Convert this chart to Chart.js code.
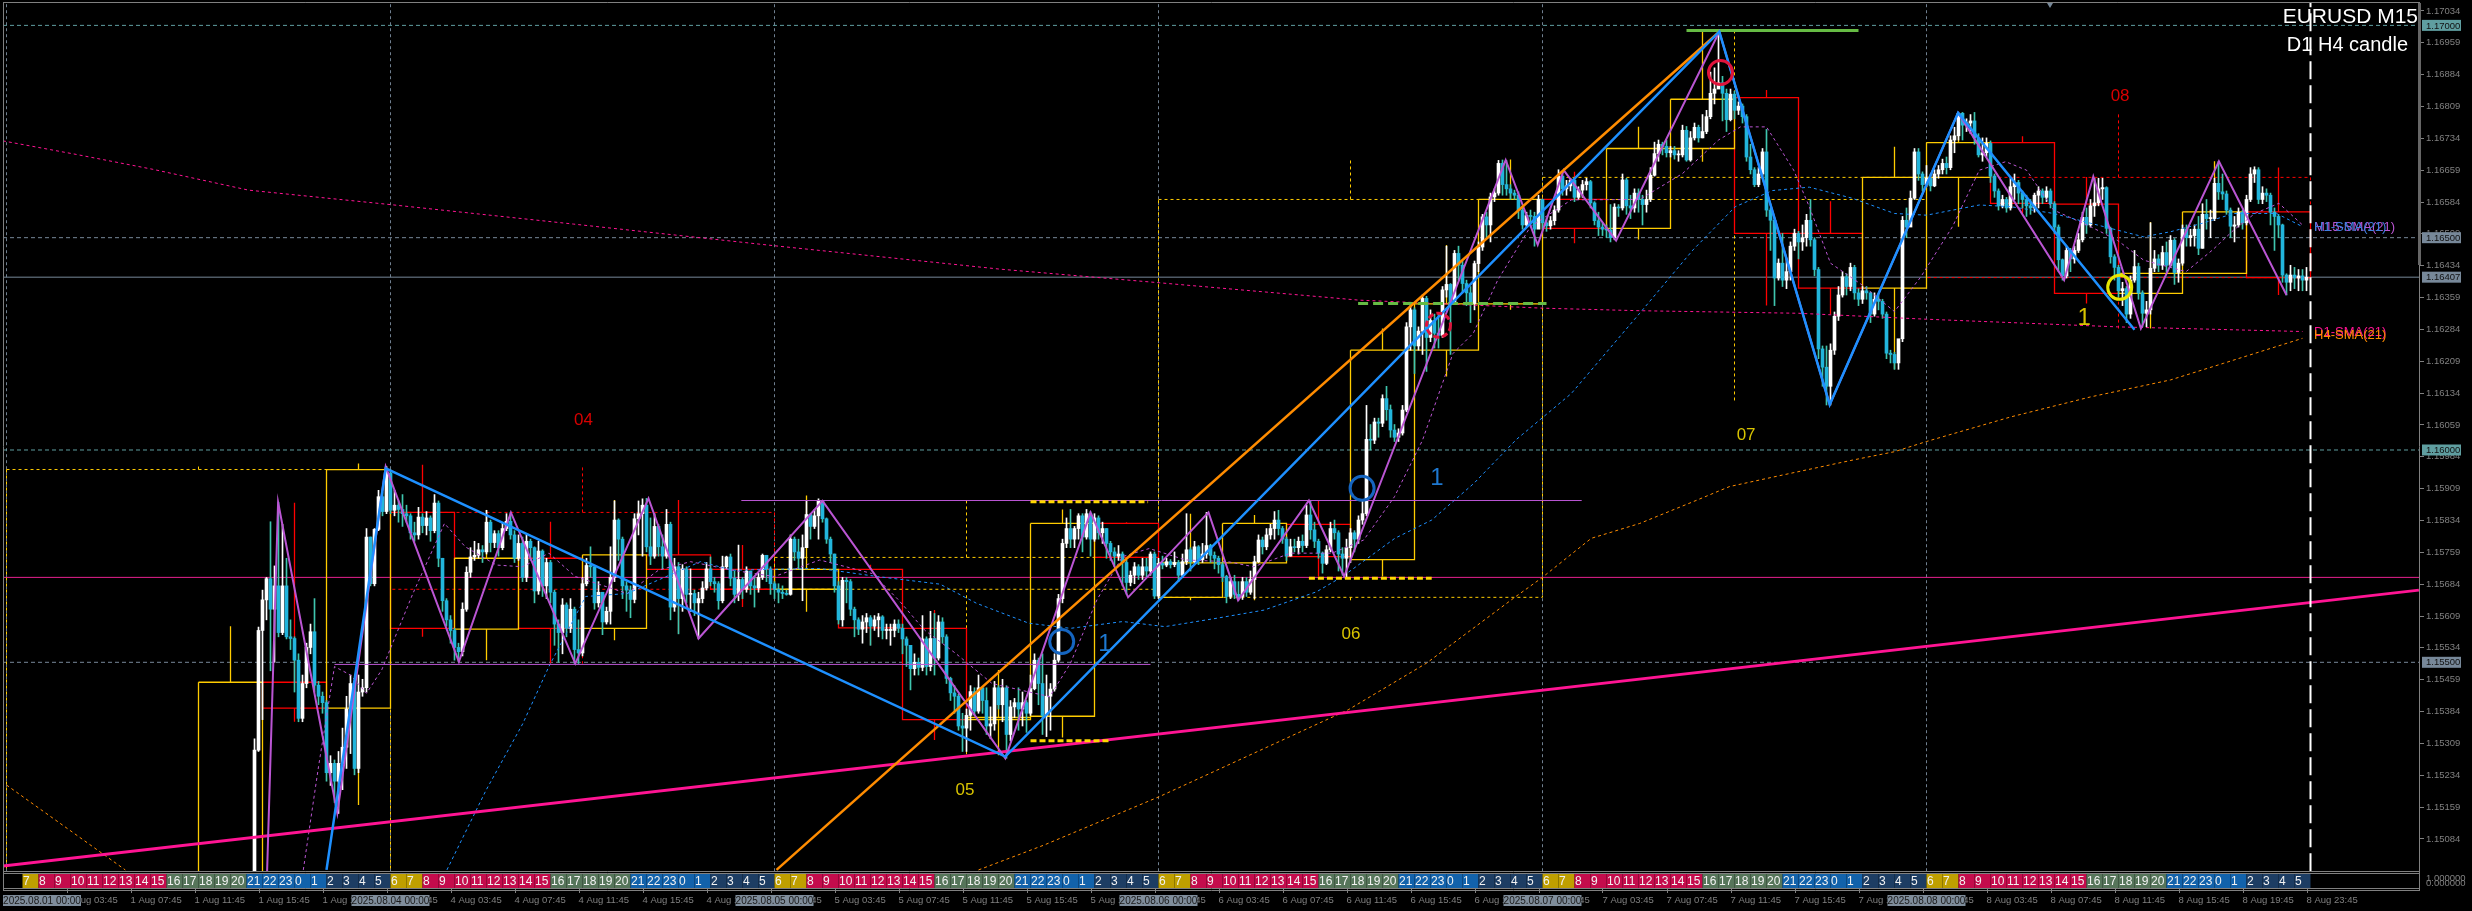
<!DOCTYPE html>
<html>
<head>
<meta charset="utf-8">
<title>EURUSD M15</title>
<script src="https://cdn.jsdelivr.net/npm/chart.js@4"></script>
<style>
  html, body { margin: 0; background: #000; }
  canvas { display: block; }
</style>
</head>
<body>
<canvas id="mt4Chart" width="2472" height="911"></canvas>
<script>
// All prices below are points above 1.15000 (1407 means 1.16407)
const basePrice = 1.15;
const firstCandleBar = 62;
const firstOpen = -200;

// M15 candles, one close / high / low per bar, each day starts at 00:00
const closesAug01 = [293,575,647,697,625,680,570,680,560,556,505,368,450,535,572,446,420,405,240,262,220,262,300,390,450,250,430,440,795,685,813,890,855,945];
const highsAug01 = [320,583,670,700,831,727,877,825,745,600,560,520,470,545,590,650,455,430,410,280,270,290,345,420,470,455,470,460,815,795,815,905,900,961];
const lowsAug01 = [-300,290,365,600,480,500,560,565,555,530,430,360,360,440,520,430,400,380,220,210,170,144,200,250,285,235,240,420,430,680,680,810,845,850];

const closesAug04 = [858,870,860,850,845,805,800,842,822,840,810,875,745,645,600,575,535,525,625,712,748,752,765,760,830,782,803,770,815,832,800,745,780,700,785,770,668,762,680,735,665,590,570,635,580,625,530,522,685,728,725,640,665,595,620,700,835,790,680,670,648,838,850,870,772,750,820,772,750,825,630,725,650,720,660,662,640,650,675,720,690,685,645,725,748,698,660,695,672,715,680,675,700,752,720,685];
const highsAug04 = [950,905,880,895,870,850,830,865,850,855,845,895,880,745,650,610,580,545,640,725,770,785,780,775,858,835,810,810,828,850,853,810,800,795,800,790,772,785,765,745,740,670,600,650,640,650,630,600,700,745,772,725,690,660,630,772,880,838,795,690,680,850,880,885,886,840,850,825,800,860,830,745,735,730,725,720,670,665,690,735,748,700,690,750,750,755,715,776,700,725,715,700,710,755,752,725];
const lowsAug04 = [850,845,830,820,830,790,785,790,805,800,785,805,725,620,585,545,505,501,515,620,700,740,745,735,755,760,770,750,765,810,790,735,740,690,690,740,640,660,655,650,640,540,500,520,560,570,497,497,515,680,700,625,630,565,590,590,690,740,650,620,605,640,800,750,760,730,745,750,720,745,600,620,567,620,640,620,610,556,640,670,680,665,625,640,720,680,640,645,650,665,660,630,665,695,690,660];

const closesAug05 = [672,665,662,660,790,760,745,770,848,820,845,880,838,790,755,680,600,693,690,625,600,578,595,605,585,600,607,575,575,575,590,580,555,540,485,500,488,555,490,556,510,595,560,462,428,420,350,345,375,431,385,440,410,350,355,440,400,440,330,395,405,390,405,380,438,505,450,375,420,437,505,650,780,815,790,815,845,795,850,790,840,805,815,780,760,750,755,735,688,705,725,705,725,715,755,656];
const highsAug05 = [690,685,680,670,800,795,790,800,880,850,860,885,880,840,795,755,690,700,700,695,630,605,610,615,610,610,615,610,590,590,600,600,590,560,540,520,510,610,560,620,615,610,605,565,465,445,425,380,390,445,440,470,440,440,395,455,445,460,445,410,415,440,430,410,470,520,510,520,470,450,520,660,790,840,860,820,850,850,860,855,850,845,830,815,785,770,775,760,740,715,735,730,745,745,760,760];
const lowsAug05 = [650,640,650,658,658,740,720,645,770,790,815,790,830,780,735,665,590,585,640,610,560,565,545,570,540,575,560,555,555,540,560,570,520,490,435,470,470,480,470,480,470,505,545,450,410,380,340,290,290,340,375,380,380,330,320,340,390,360,274,315,370,340,350,335,375,435,400,330,325,340,432,500,640,770,770,770,790,760,790,750,785,790,780,745,740,725,740,680,660,680,685,695,695,700,705,650];

const closesAug06 = [733,729,737,730,735,705,737,765,737,772,742,755,775,752,745,730,702,655,690,660,655,690,665,695,737,788,772,800,815,835,815,790,750,772,770,785,775,847,812,785,757,733,765,815,805,755,745,770,805,790,835,850,1025,1023,1066,1063,1121,1095,1047,1030,1040,1094,1290,1330,1245,1280,1357,1265,1305,1275,1270,1377,1390,1345,1463,1435,1392,1370,1345,1439,1478,1549,1530,1596,1605,1675,1625,1615,1605,1600,1565,1530,1552,1550,1520,1590];
const highsAug06 = [745,750,745,742,760,740,755,850,770,785,775,780,853,778,760,750,735,705,700,705,690,700,700,715,750,800,795,815,825,855,858,820,795,790,790,795,800,870,881,830,790,760,775,830,835,810,770,790,815,810,845,880,1105,1060,1075,1075,1130,1150,1106,1060,1050,1105,1300,1345,1335,1290,1365,1362,1330,1320,1320,1385,1480,1392,1470,1480,1445,1400,1385,1445,1490,1555,1560,1605,1615,1682,1683,1682,1625,1612,1608,1570,1560,1565,1560,1600];
const lowsAug06 = [650,720,725,722,725,690,700,730,715,735,730,735,745,735,720,710,690,640,650,650,646,648,655,660,650,735,755,765,790,790,800,780,740,750,760,755,760,770,790,770,745,710,730,760,790,715,705,700,735,760,780,825,845,1000,1015,1030,1055,1070,1030,1020,1020,1035,1090,1235,1180,1235,1225,1185,1255,1240,1240,1265,1360,1225,1345,1400,1370,1340,1300,1330,1420,1470,1500,1490,1585,1600,1600,1600,1590,1590,1545,1520,1525,1530,1480,1525];

const closesAug07 = [1535,1528,1540,1565,1645,1615,1622,1635,1595,1612,1625,1632,1582,1540,1525,1520,1518,1500,1572,1570,1636,1575,1570,1605,1590,1578,1590,1647,1698,1720,1715,1700,1705,1695,1695,1753,1683,1735,1760,1735,1750,1785,1840,1850,1865,1840,1778,1838,1800,1810,1785,1690,1660,1625,1650,1702,1565,1541,1405,1440,1400,1420,1480,1510,1490,1500,1541,1495,1425,1238,1195,1150,1235,1315,1365,1408,1385,1430,1370,1355,1375,1370,1320,1355,1350,1320,1228,1225,1205,1262,1541,1525,1593,1702,1650,1625];
const highsAug07 = [1590,1545,1550,1575,1660,1648,1635,1640,1640,1620,1635,1640,1635,1585,1560,1535,1530,1578,1580,1578,1650,1640,1600,1615,1615,1600,1612,1665,1725,1730,1725,1730,1715,1715,1705,1765,1762,1750,1770,1765,1790,1800,1890,1900,1985,1880,1850,1850,1845,1820,1815,1790,1720,1665,1665,1710,1755,1570,1545,1450,1510,1450,1490,1520,1515,1530,1555,1590,1500,1430,1245,1245,1250,1325,1385,1420,1415,1440,1435,1380,1385,1385,1372,1370,1365,1355,1325,1235,1230,1250,1550,1570,1610,1710,1710,1655];
const lowsAug07 = [1520,1515,1520,1530,1560,1600,1600,1610,1585,1590,1595,1612,1570,1530,1505,1505,1500,1490,1495,1550,1565,1555,1545,1560,1560,1530,1560,1585,1645,1680,1695,1690,1690,1685,1680,1690,1680,1680,1730,1725,1735,1745,1780,1815,1855,1775,1750,1775,1780,1790,1770,1680,1650,1620,1620,1645,1550,1470,1340,1400,1385,1380,1400,1470,1450,1470,1480,1480,1410,1215,1150,1106,1106,1225,1305,1360,1365,1375,1355,1340,1345,1355,1300,1315,1330,1310,1215,1205,1190,1190,1255,1500,1530,1590,1635,1610];

const closesAug08 = [1640,1622,1650,1660,1675,1665,1730,1740,1793,1765,1770,1775,1735,1695,1700,1722,1645,1610,1575,1590,1570,1620,1630,1605,1590,1575,1570,1600,1610,1595,1610,1580,1525,1448,1410,1470,1450,1470,1495,1548,1530,1575,1582,1615,1618,1522,1455,1430,1375,1380,1320,1400,1432,1370,1322,1330,1428,1450,1435,1465,1435,1494,1418,1440,1520,1500,1505,1520,1475,1555,1545,1545,1628,1608,1603,1565,1527,1530,1560,1535,1590,1650,1660,1590,1605,1600,1560,1550,1530,1412,1395,1412,1405,1410,1400,1407];
const highsAug08 = [1670,1650,1660,1670,1685,1690,1740,1760,1794,1795,1780,1790,1795,1745,1735,1735,1728,1650,1615,1600,1595,1640,1650,1635,1610,1600,1590,1605,1620,1615,1620,1615,1585,1530,1450,1480,1475,1480,1510,1560,1570,1590,1640,1640,1640,1620,1525,1460,1435,1395,1385,1410,1470,1440,1375,1350,1535,1470,1460,1480,1490,1505,1498,1450,1530,1530,1520,1530,1550,1580,1590,1565,1640,1680,1650,1610,1570,1550,1570,1565,1600,1665,1667,1665,1620,1615,1605,1570,1555,1532,1415,1435,1430,1425,1425,1430];
const lowsAug08 = [1620,1610,1620,1640,1650,1650,1660,1700,1730,1730,1750,1745,1720,1690,1680,1690,1630,1595,1565,1570,1560,1565,1590,1580,1570,1550,1555,1560,1570,1580,1585,1570,1510,1420,1400,1405,1420,1440,1465,1490,1510,1525,1550,1575,1590,1510,1440,1400,1360,1340,1300,1310,1395,1355,1290,1290,1320,1420,1420,1425,1420,1430,1390,1395,1435,1480,1480,1480,1460,1475,1520,1500,1540,1590,1590,1555,1500,1490,1525,1520,1530,1585,1630,1580,1580,1585,1530,1470,1500,1395,1365,1375,1380,1375,1375,1375];

// H4 candles drawn as open boxes
const h4Starts = [48,64,80,96,112,128,144,160,176,192,208,224,240,256,272,288,304,320,336,352,368,384,400,416,432,448,464,480,496,512,528,544,560];
const h4Opens = [-200,453,392,853,578,745,580,753,719,672,719,580,365,373,827,653,734,825,742,1235,1344,1590,1522,1710,1830,1510,1381,1642,1724,1579,1369,1416,1561];
const h4Closes = [453,392,954,580,745,580,753,719,672,719,581,365,370,827,747,734,827,749,1235,1344,1590,1522,1710,1826,1510,1381,1642,1724,1581,1369,1416,1561,1406];
const h4Highs = [585,876,968,965,858,831,882,882,776,893,730,623,482,860,830,850,847,881,1286,1483,1684,1655,1761,1985,1848,1586,1714,1794,1739,1643,1537,1680,1665];
const h4Lows = [-200,360,164,560,505,497,552,568,630,619,540,317,281,323,694,646,646,702,702,1173,1330,1487,1496,1679,1340,1320,1190,1526,1557,1345,1286,1416,1365];

// D1 candles drawn as dashed boxes
const d1Starts = [0,96,192,288,384,480];
const d1Opens = [-300,853,672,653,1590,1642];
const d1Closes = [954,672,747,1590,1642,1406];
const d1Highs = [968,965,882,1684,1985,1794];
const d1Lows = [-300,497,281,646,1110,1286];

// moving averages, read at the visible bends
const d1SmaBars = [-0.9,17.5,36.6,60.5,95.9,141.8,192,248.3,288,338,384,408.3,448,480,527.7,574];
const d1SmaPts = [1728,1696,1661,1612,1578,1532,1481,1426,1394,1353,1334,1328,1322,1308,1290,1279];
const h4SmaEarlyBars = [0,29.7];
const h4SmaEarlyPts = [211,11];
const h4SmaBars = [243,259.5,288.3,314.4,335.4,355,377.2,383.7,396.2,408.3,421.6,430.8,444,461.4,472,480,501.1,521,541,554.2,574];
const h4SmaPts = [11,70,184,297,388,498,654,698,792,827,878,914,941,976,996,1020,1078,1125,1165,1204,1263];
const h1SmaBars = [110.1,119.9,129.1,135.6,144.8,155.2,173.5,181.4,203.3,217.7,233.4,242.5,255.6,266,279.1,289.6,302.7,314.4,327.5,334,347.1,356.3,366.8,377.5,391.2,408.3,421.6,432.2,441.5,450.7,461.4,472,480,493.2,501.1,511.8,521,534.3,541,549,556.8,567.5,574];
const h1SmaPts = [11,199,356,490,655,662,737,717,721,702,684,639,592,580,596,584,604,623,666,702,792,835,921,1025,1133,1322,1471,1573,1611,1619,1593,1557,1553,1577,1573,1557,1534,1502,1514,1534,1557,1557,1526];
const m15SmaBars = [74.2,78,82,86,90,93.8,101.6,109.5,114.7,122.5,129,135.6,142.2,155.2,163,171,181.4,192,203.3,216.4,223,229.5,237.3,246.4,260.8,266,272.6,279,285.7,294.8,305.3,311.8,321,331.4,339.3,347,354,361.6,366.7,372.8,381,391.2,408.3,419,428,433.5,440,446.8,450.7,456,464,472,478.6,486.5,493.2,499.8,505,511.8,521,527.7,534.3,544.9,551.5,556.8,562.1,568.1,574];
const m15SmaPts = [11,254,490,470,427,482,662,827,772,729,725,757,702,662,717,737,717,702,741,709,647,576,521,450,419,498,647,749,768,741,737,725,757,757,788,890,1023,1227,1275,1400,1526,1589,1590,1651,1730,1761,1761,1659,1573,1440,1388,1326,1408,1526,1659,1679,1659,1565,1526,1494,1447,1420,1471,1518,1557,1581,1530];

// hand drawn objects
const zigzagBars = [65,67.9,82.7,94.8,113.1,126.1,142.2,160.5,173,204,249.7,271,280.4,300.5,307.9,325.6,334.4,374.8,382.8,389.3,402.4,428.2,455.8,487.9,514.4,521.7,533.6,553.1,570];
const zigzagPts = [-40,877,144,961,501,853,497,886,556,880,274,853,653,853,646,881,702,1683,1483,1659,1493,1985,1107,1794,1400,1644,1286,1680,1365];
const blueBars = [80,94.8,249.7,428.2,455.8,487.9,532];
const bluePts = [11,957,278,1985,1107,1794,1283];
const orangeBars = [192.5,428.2];
const orangePts = [11,1985];
const pinkTrendBars = [-0.9,603.1];
const pinkTrendPts = [20,670];

// price levels
const tealLevels = [2000,1000];
const slateLevels = [1500,500];
const pinkLevel = 700;
const lastPrice = 1407;
const purpleBandBars = [[183.7,393.8],[82,286]];
const purpleBandPts = [881,495];
const goldDashBars = [[256,285.4],[256,276],[325.6,356.3]];
const goldDashPts = [878,315,698];
const greenLineBars = [420,463];
const greenLinePt = 1988;
const greenDashBars = [337.9,385];
const greenDashPt = 1345;
const endOfDataBar = 576;

// circles and text marks
const ringBars = [263.8,338.9,428.5,528.3];
const ringPts = [549,910,1889,1383];
const ringColors = ["#1565c0","#1565c0","#e0143c","#e6e600"];
const dashedRingBar = 358;
const dashedRingPt = 1294;
const markTexts = ["04","05","06","07","08","1","1","1"];
const markBars = [144.25,239.6,336.1,434.9,528.4,274.6,357.6,519.4];
const markPts = [1071,199,565,1035,1832,543,932,1311];
const markColors = ["#d80000","#d9c400","#d9c400","#d9c400","#d80000","#1e78d0","#1e78d0","#d9c400"];
const markSizes = [17,17,17,17,17,24,24,24];
const smaTexts = ["M15-SMA(21)","H1-SMA(21)","D1-SMA(21)","H4-SMA(21)"];
const smaPts = [1523,1523,1278,1269];
const smaColors = ["#ba55d3","#3f7fe0","#ff1493","#ff8c00"];
const smaLabelBar = 576.9;

// axes
const priceTicks = [1.17034,1.16959,1.16884,1.16809,1.16734,1.16659,1.16584,1.16509,1.16434,1.16359,1.16284,1.16209,1.16134,1.16059,1.15984,1.15909,1.15834,1.15759,1.15684,1.15609,1.15534,1.15459,1.15384,1.15309,1.15234,1.15159,1.15084];
const priceBoxes = [2000,1500,1407,1000,500];
const priceBoxColors = ["#5f9ea0","#778899","#778899","#5f9ea0","#778899"];
const dayNames = ["1 Aug","4 Aug","5 Aug","6 Aug","7 Aug","8 Aug"];
const dayStamps = ["2025.08.01 00:00","2025.08.04 00:00","2025.08.05 00:00","2025.08.06 00:00","2025.08.07 00:00","2025.08.08 00:00"];
const tickTimes = ["03:45","07:45","11:45","15:45","19:45","23:45"];
const stripHours = [6,7,8,9,10,11,12,13,14,15,16,17,18,19,20,21,22,23,0,1,2,3,4,5];

const toPrice = (p) => basePrice + p / 100000;

function lineSet(bars, pts, color, width, dash, order) {
  return {
    type: "line",
    data: bars.map((b, k) => ({ x: b, y: pts[k] === null ? null : toPrice(pts[k]) })),
    borderColor: color,
    borderWidth: width,
    borderDash: dash || [],
    pointRadius: 0,
    tension: 0,
    fill: false,
    spanGaps: false,
    order: order,
  };
}

// one dataset per colour, rectangles and wicks split by null points
function boxSets(starts, length, opens, closes, highs, lows, width, dash, order) {
  const upBars = [], upPts = [], downBars = [], downPts = [];
  starts.forEach((s, k) => {
    const bars = closes[k] >= opens[k] ? upBars : downBars;
    const pts = closes[k] >= opens[k] ? upPts : downPts;
    const top = Math.max(opens[k], closes[k]);
    const bottom = Math.min(opens[k], closes[k]);
    const mid = s + length / 2;
    bars.push(s, s + length, s + length, s, s, s, mid, mid, mid, mid, mid, mid);
    pts.push(top, top, bottom, bottom, top, null, top, highs[k], null, bottom, lows[k], null);
  });
  return [
    lineSet(upBars, upPts, "#ffcc00", width, dash, order),
    lineSet(downBars, downPts, "#ff0000", width, dash, order),
  ];
}

const closes = [].concat(closesAug01, closesAug04, closesAug05, closesAug06, closesAug07, closesAug08);
const highs = [].concat(highsAug01, highsAug04, highsAug05, highsAug06, highsAug07, highsAug08);
const lows = [].concat(lowsAug01, lowsAug04, lowsAug05, lowsAug06, lowsAug07, lowsAug08);
const opens = closes.map((c, k) => (k === 0 ? firstOpen : closes[k - 1]));

const isUp = (k) => closes[k] >= opens[k];

const wickSet = {
  type: "bar",
  data: closes.map((c, k) => ({ x: firstCandleBar + k, y: [toPrice(lows[k]), toPrice(highs[k])] })),
  backgroundColor: closes.map((c, k) => (isUp(k) ? "#ffffff" : "#3fc5ae")),
  borderWidth: 0,
  barThickness: 1,
  grouped: false,
  order: 11,
};
const bodySet = {
  type: "bar",
  data: closes.map((c, k) => ({ x: firstCandleBar + k, y: [toPrice(opens[k]), toPrice(c)] })),
  backgroundColor: closes.map((c, k) => (isUp(k) ? "#ffffff" : "#22b5dc")),
  borderWidth: 0,
  barThickness: 3,
  minBarLength: 1,
  grouped: false,
  order: 10,
};

const xMin = -0.875;
const xMax = 603.125;
const dashGrid = [3, 3];
const datasets = [];

// grid of round levels and day separators
tealLevels.forEach((p) => datasets.push(lineSet([xMin, xMax], [p, p], "#5f9ea0", 1, [4, 3], 30)));
slateLevels.forEach((p) => datasets.push(lineSet([xMin, xMax], [p, p], "#778899", 1, [4, 3], 30)));
d1Starts.forEach((b) => datasets.push(lineSet([b, b], [8, 2053], "#708090", 1, dashGrid, 30)));
datasets.push(lineSet([xMin, xMax], [lastPrice, lastPrice], "#778899", 1, [], 29));
datasets.push(lineSet([xMin, xMax], [pinkLevel, pinkLevel], "#e6208f", 1, [], 29));
datasets.push(lineSet([endOfDataBar, endOfDataBar], [8, 2053], "#ffffff", 2, [18, 6], 5));

datasets.push(...boxSets(d1Starts, 96, d1Opens, d1Closes, d1Highs, d1Lows, 1, dashGrid, 20));
datasets.push(...boxSets(h4Starts, 16, h4Opens, h4Closes, h4Highs, h4Lows, 1.3, [], 19));

datasets.push(wickSet, bodySet);

datasets.push(lineSet(d1SmaBars, d1SmaPts, "#ff1493", 1, [3, 3], 8));
datasets.push(lineSet(h4SmaEarlyBars, h4SmaEarlyPts, "#ff8c00", 1, [3, 3], 8));
datasets.push(lineSet(h4SmaBars, h4SmaPts, "#ff8c00", 1, [3, 3], 8));
datasets.push(lineSet(h1SmaBars, h1SmaPts, "#1e90ff", 1, [3, 3], 8));
datasets.push(lineSet(m15SmaBars, m15SmaPts, "#ba55d3", 1, [3, 3], 8));

purpleBandBars.forEach((b, k) => datasets.push(lineSet(b, [purpleBandPts[k], purpleBandPts[k]], "#ba55d3", 1, [], 7)));
goldDashBars.forEach((b, k) => datasets.push(lineSet(b, [goldDashPts[k], goldDashPts[k]], "#ffd700", 3, [6, 3], 6)));
datasets.push(lineSet(greenLineBars, [greenLinePt, greenLinePt], "#66bb44", 3, [], 6));
datasets.push(lineSet(greenDashBars, [greenDashPt, greenDashPt], "#66bb44", 3, [10, 5], 6));
datasets.push(lineSet(pinkTrendBars, pinkTrendPts, "#ff1493", 3, [], 6));
datasets.push(lineSet(orangeBars, orangePts, "#ff8c00", 2.5, [], 4));
datasets.push(lineSet(zigzagBars, zigzagPts, "#ba55d3", 2, [], 4));
datasets.push(lineSet(blueBars, bluePts, "#1e90ff", 2.5, [], 3));

datasets.push({
  type: "line",
  showLine: false,
  data: ringBars.map((b, k) => ({ x: b, y: toPrice(ringPts[k]) })),
  pointRadius: 12,
  pointBorderWidth: 3,
  pointBorderColor: ringColors,
  pointBackgroundColor: "rgba(0,0,0,0)",
  order: 1,
});

const mt4Overlay = {
  id: "mt4Overlay",
  afterDatasetsDraw(chart) {
    const ctx = chart.ctx;
    const x = chart.scales.x;
    const y = chart.scales.y;
    const area = chart.chartArea;
    ctx.save();

    // marks on the chart
    ctx.textAlign = "center";
    ctx.textBaseline = "middle";
    markTexts.forEach((t, k) => {
      ctx.font = markSizes[k] + 'px "Liberation Sans"';
      ctx.fillStyle = markColors[k];
      ctx.fillText(t, x.getPixelForValue(markBars[k]), y.getPixelForValue(toPrice(markPts[k])));
    });
    ctx.textAlign = "left";
    ctx.font = '13px "Liberation Sans"';
    smaTexts.forEach((t, k) => {
      ctx.fillStyle = smaColors[k];
      ctx.fillText(t, x.getPixelForValue(smaLabelBar), y.getPixelForValue(toPrice(smaPts[k])));
    });

    // dashed ring
    ctx.beginPath();
    ctx.setLineDash([6, 3]);
    ctx.lineWidth = 3;
    ctx.strokeStyle = "#e0143c";
    ctx.arc(x.getPixelForValue(dashedRingBar), y.getPixelForValue(toPrice(dashedRingPt)), 12, 0, Math.PI * 2);
    ctx.stroke();
    ctx.setLineDash([]);

    // title
    ctx.fillStyle = "#ffffff";
    ctx.textAlign = "right";
    ctx.font = '21px "Liberation Sans"';
    ctx.fillText("EURUSD M15", 2418, 17);
    ctx.font = '20px "Liberation Sans"';
    ctx.fillText("D1 H4 candle", 2408, 45);

    // hour strip pane
    ctx.textAlign = "left";
    ctx.font = '12px "Liberation Sans"';
    dayStamps.forEach((stamp, d) => {
      stripHours.forEach((h, k) => {
        if (d === 0 && k === 0) return;
        let color = "#1d3d63";
        if (h === 6 || h === 7) color = "#bf9f00";
        else if (h >= 8 && h <= 15) color = "#c40c4c";
        else if (h >= 16 && h <= 20) color = "#56755a";
        else if (h >= 21 || h <= 1) color = "#1262ab";
        const left = x.getPixelForValue(d1Starts[d] + k * 4);
        ctx.fillStyle = color;
        ctx.fillRect(left, 874, 16, 14);
        ctx.fillStyle = "#f2f2f2";
        ctx.fillText(String(h), left + 0.5, 881.5);
      });
    });

    // frame
    ctx.strokeStyle = "#808080";
    ctx.lineWidth = 1;
    [2.5, area.bottom + 0.5, area.bottom + 2.5, 888.5, 890.5].forEach((py) => {
      ctx.beginPath();
      ctx.moveTo(3, py);
      ctx.lineTo(area.right + 1, py);
      ctx.stroke();
    });
    ctx.beginPath();
    ctx.moveTo(3.5, 3);
    ctx.lineTo(3.5, 890);
    ctx.moveTo(area.right + 0.5, 3);
    ctx.lineTo(area.right + 0.5, 890);
    ctx.stroke();
    ctx.fillStyle = "#666666";
    ctx.fillRect(area.right - 1, 3, 3, 262);
    ctx.fillStyle = "#778899";
    ctx.beginPath();
    ctx.moveTo(2047, 3);
    ctx.lineTo(2053, 3);
    ctx.lineTo(2050, 8);
    ctx.fill();

    // pane scale
    ctx.fillStyle = "#808080";
    ctx.font = '9.5px "Liberation Sans"';
    ctx.fillText("1.000000", 2426, 878);
    ctx.fillText("0.000000", 2426, 883);

    // tick marks of the time axis
    ctx.strokeStyle = "#808080";
    x.ticks.forEach((t) => {
      const px = Math.round(x.getPixelForValue(t.value)) + 0.5;
      ctx.beginPath();
      ctx.moveTo(px, 889);
      ctx.lineTo(px, 893);
      ctx.stroke();
    });

    // date boxes on the time axis
    ctx.font = '10px "Liberation Sans"';
    dayStamps.forEach((stamp, d) => {
      const center = d === 0 ? 42 : x.getPixelForValue(d1Starts[d]);
      ctx.fillStyle = "#7f8d9b";
      ctx.fillRect(center - 39, 895, 78, 11);
      ctx.fillStyle = "#1a1a1a";
      ctx.textAlign = "center";
      ctx.fillText(stamp, center, 901);
    });

    // price boxes
    ctx.font = '9.5px "Liberation Sans"';
    priceBoxes.forEach((p, k) => {
      const py = y.getPixelForValue(toPrice(p));
      ctx.fillStyle = priceBoxColors[k];
      ctx.fillRect(2422, py - 5.5, 39, 11);
      ctx.fillStyle = "#111111";
      ctx.textAlign = "left";
      ctx.fillText(toPrice(p).toFixed(5), 2426, py + 0.5);
    });
    ctx.restore();
  },
};

new Chart(document.getElementById("mt4Chart"), {
  data: { datasets: datasets },
  plugins: [mt4Overlay],
  options: {
    responsive: false,
    animation: false,
    devicePixelRatio: 1,
    layout: { autoPadding: false, padding: { left: 3, top: 3, right: 0, bottom: 0 } },
    plugins: { legend: { display: false }, tooltip: { enabled: false } },
    scales: {
      x: {
        type: "linear",
        position: "bottom",
        min: xMin,
        max: xMax,
        offset: false,
        grid: { display: false },
        border: { display: false },
        // the scale must not push the plot area away from the frame
        afterFit: (s) => { s.height = 40; s.paddingLeft = 0; s.paddingRight = 0; },
        afterBuildTicks: (s) => {
          const ticks = [];
          dayNames.forEach((name, d) => {
            tickTimes.forEach((t, k) => ticks.push({ value: d1Starts[d] + 15 + k * 16 }));
          });
          s.ticks = ticks;
        },
        ticks: {
          autoSkip: false,
          maxRotation: 0,
          align: "start",
          padding: 16,
          color: "#808080",
          font: { family: "Liberation Sans", size: 9.5 },
          callback: (value, index) =>
            dayNames[Math.floor(index / tickTimes.length)] + " " + tickTimes[index % tickTimes.length],
        },
      },
      y: {
        type: "linear",
        position: "right",
        min: toPrice(8.5),
        max: toPrice(2052.7),
        grid: { drawOnChartArea: false, color: "#808080", tickLength: 5 },
        border: { display: false },
        afterFit: (s) => { s.width = 53; s.paddingTop = 0; s.paddingBottom = 0; },
        afterBuildTicks: (s) => { s.ticks = priceTicks.map((v) => ({ value: v })); },
        ticks: {
          autoSkip: false,
          padding: 2,
          color: "#808080",
          font: { family: "Liberation Sans", size: 9.5 },
          callback: (v) => v.toFixed(5),
        },
      },
    },
  },
});
</script>
</body>
</html>
